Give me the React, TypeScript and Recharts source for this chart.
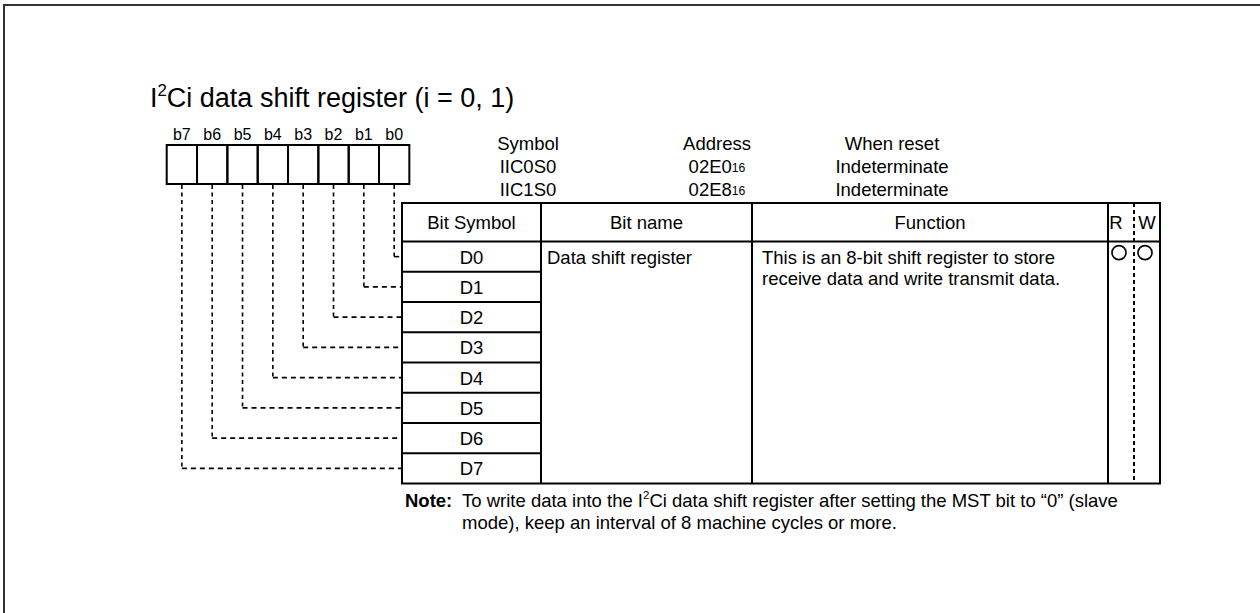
import React from 'react';
import { ScatterChart, Scatter, XAxis, YAxis, ReferenceLine, ReferenceArea, ReferenceDot } from 'recharts';

const FONT = '"Liberation Sans", Arial, Helvetica, sans-serif';

// ---------- content ----------
const titleParts = [
  { t: 'I' },
  { t: '2', k: 'sup' },
  { t: 'Ci data shift register (i = 0, 1)' },
];
const bitLabels = ['b7', 'b6', 'b5', 'b4', 'b3', 'b2', 'b1', 'b0'];
const bitSymbols = ['D0', 'D1', 'D2', 'D3', 'D4', 'D5', 'D6', 'D7'];
const headerLabels = ['Bit Symbol', 'Bit name', 'Function'];
const rwLabels = ['R', 'W'];
const bitName = 'Data shift register';
const functionLines = ['This is an 8-bit shift register to store', 'receive data and write transmit data.'];
const infoHeaders = ['Symbol', 'Address', 'When reset'];
const symbols = ['IIC0S0', 'IIC1S0'];
const addresses = ['02E0', '02E8'];
const addressRadix = '16';
const resetValues = ['Indeterminate', 'Indeterminate'];
const rwFlags = ['O', 'O'];
const noteLabel = 'Note:';
const noteLine1 = [
  { t: 'To write data into the I' },
  { t: '2', k: 'sup' },
  { t: 'Ci data shift register after setting the MST bit to \u201C0\u201D (slave' },
];
const noteLine2 = 'mode), keep an interval of 8 machine cycles or more.';

// ---------- layout ----------
const W = 1260;
const H = 613;
const BOX_X0 = 166.7;
const BOX_W = 30.33;
const BOX_Y0 = 145;
const BOX_Y1 = 184;
const T_X0 = 402;
const T_X1 = 1160;
const T_Y0 = 203;
const T_HDR = 241.5;
const ROW_H = 30.25;
const COLS = [402, 541, 752, 1108, 1160];
const RW_MID = 1134;
const FS = 18.5;

const rowCenter = (i: number) => T_HDR + ROW_H * (i + 0.5);
const boxCenter = (i: number) => BOX_X0 + BOX_W * (i + 0.5);

type Part = { t: string; k?: string };

const renderParts = (parts: Part[], fs: number) => {
  const out: any[] = [];
  let shift = 0;
  parts.forEach((p, i) => {
    if (p.k === 'sup') {
      const d = -fs * 0.42 - shift;
      shift = -fs * 0.42;
      out.push(<tspan key={i} dy={d} fontSize={fs * 0.62}>{p.t}</tspan>);
    } else if (p.k === 'sub') {
      const d = fs * 0.12 - shift;
      shift = fs * 0.12;
      out.push(<tspan key={i} dy={d} fontSize={fs * 0.66}>{p.t}</tspan>);
    } else {
      const d = -shift;
      shift = 0;
      out.push(<tspan key={i} dy={d}>{p.t}</tspan>);
    }
  });
  return out;
};

const TextShape = (props: any) => {
  const { cx, cy, payload } = props;
  if (cx == null || cy == null) return null;
  const fs = payload.fs || FS;
  const parts: Part[] = payload.parts || [{ t: payload.t }];
  return (
    <text
      x={cx}
      y={cy}
      fontFamily={FONT}
      fontSize={fs}
      fill="#000"
      textAnchor={payload.anchor || 'start'}
      dominantBaseline={payload.base || 'alphabetic'}
      fontWeight={payload.weight || 'normal'}
    >
      {renderParts(parts, fs)}
    </text>
  );
};

// ---------- text data (positions derived from layout + arrays) ----------
const textData: any[] = [];
textData.push({ x: 150, y: 107, parts: titleParts, fs: 27 });
bitLabels.forEach((b, i) => textData.push({ x: boxCenter(i), y: 140, t: b, fs: 16, anchor: 'middle' }));
const infoX = [528, 717, 892];
infoHeaders.forEach((h, i) => textData.push({ x: infoX[i], y: 143, t: h, anchor: 'middle', base: 'central' }));
symbols.forEach((s, i) => textData.push({ x: infoX[0], y: 165.5 + i * 23, t: s, anchor: 'middle', base: 'central' }));
addresses.forEach((a, i) =>
  textData.push({ x: infoX[1], y: 165.5 + i * 23, parts: [{ t: a }, { t: addressRadix, k: 'sub' }], anchor: 'middle', base: 'central' })
);
resetValues.forEach((r, i) => textData.push({ x: infoX[2], y: 165.5 + i * 23, t: r, anchor: 'middle', base: 'central' }));
const hdrY = (T_Y0 + T_HDR) / 2;
headerLabels.forEach((h, i) => textData.push({ x: (COLS[i] + COLS[i + 1]) / 2, y: hdrY, t: h, anchor: 'middle', base: 'central' }));
const rwX = [1116, 1147];
rwLabels.forEach((r, i) => textData.push({ x: rwX[i], y: hdrY, t: r, anchor: 'middle', base: 'central' }));
bitSymbols.forEach((s, i) => textData.push({ x: (COLS[0] + COLS[1]) / 2, y: rowCenter(i), t: s, anchor: 'middle', base: 'central' }));
textData.push({ x: COLS[1] + 6, y: rowCenter(0), t: bitName, base: 'central' });
functionLines.forEach((l, i) => textData.push({ x: COLS[2] + 10, y: rowCenter(0) + i * 21.5, t: l, base: 'central' }));
textData.push({ x: 405, y: 507, t: noteLabel, weight: 'bold' });
textData.push({ x: 462, y: 507, parts: noteLine1 });
textData.push({ x: 462, y: 529, t: noteLine2 });

const circleX = [1119, 1145];

export default function App() {
  return (
    <div style={{ position: 'absolute', left: 0, top: 0, width: W, height: H, background: '#fff' }}>
      <ScatterChart width={W} height={H} margin={{ top: 0, right: 0, bottom: 0, left: 0 }}>
        <XAxis type="number" dataKey="x" domain={[0, W]} hide allowDataOverflow />
        <YAxis type="number" dataKey="y" domain={[0, H]} reversed hide allowDataOverflow />

        {/* page frame */}
        <ReferenceLine segment={[{ x: 3, y: 5 }, { x: W, y: 5 }]} stroke="#333" strokeWidth={2} ifOverflow="visible" />
        <ReferenceLine segment={[{ x: 4, y: 5 }, { x: 4, y: H }]} stroke="#333" strokeWidth={2} ifOverflow="visible" />

        {/* register boxes */}
        {bitLabels.map((b, i) => (
          <ReferenceArea
            key={'box' + b}
            x1={BOX_X0 + BOX_W * i}
            x2={BOX_X0 + BOX_W * (i + 1)}
            y1={BOX_Y0}
            y2={BOX_Y1}
            fill="none"
            fillOpacity={0}
            stroke="#000"
            strokeWidth={2}
            ifOverflow="visible"
          />
        ))}

        {/* dashed connectors */}
        {bitLabels.map((b, i) => {
          const bitIndex = bitLabels.length - 1 - i;
          const x = boxCenter(i);
          const y = rowCenter(bitIndex);
          return [
            <ReferenceLine key={'v' + b} segment={[{ x, y: BOX_Y1 + 1 }, { x, y }]} stroke="#000" strokeWidth={1.6} strokeDasharray="4 3.5" ifOverflow="visible" />,
            <ReferenceLine key={'h' + b} segment={[{ x, y }, { x: T_X0, y }]} stroke="#000" strokeWidth={1.6} strokeDasharray="5 4" ifOverflow="visible" />,
          ];
        })}

        {/* table */}
        <ReferenceArea x1={T_X0} x2={T_X1} y1={T_Y0} y2={T_HDR + ROW_H * bitSymbols.length} fill="none" fillOpacity={0} stroke="#000" strokeWidth={2} ifOverflow="visible" />
        <ReferenceLine segment={[{ x: T_X0, y: T_HDR }, { x: T_X1, y: T_HDR }]} stroke="#000" strokeWidth={2} ifOverflow="visible" />
        {COLS.slice(1, 4).map((c) => (
          <ReferenceLine key={'c' + c} segment={[{ x: c, y: T_Y0 }, { x: c, y: T_HDR + ROW_H * bitSymbols.length }]} stroke="#000" strokeWidth={2} ifOverflow="visible" />
        ))}
        {bitSymbols.slice(1).map((s, i) => (
          <ReferenceLine key={'r' + s} segment={[{ x: COLS[0], y: T_HDR + ROW_H * (i + 1) }, { x: COLS[1], y: T_HDR + ROW_H * (i + 1) }]} stroke="#000" strokeWidth={2} ifOverflow="visible" />
        ))}
        <ReferenceLine segment={[{ x: RW_MID, y: T_Y0 }, { x: RW_MID, y: T_HDR + ROW_H * bitSymbols.length }]} stroke="#000" strokeWidth={2} strokeDasharray="4 3" ifOverflow="visible" />

        {/* R / W marks */}
        {rwFlags.map((f, i) => (
          <ReferenceDot key={'rw' + i} x={circleX[i]} y={rowCenter(0) - 4} r={7} fill="#fff" stroke="#000" strokeWidth={1.6} ifOverflow="visible" />
        ))}

        {/* all text */}
        <Scatter data={textData} shape={TextShape} isAnimationActive={false} />
      </ScatterChart>
    </div>
  );
}
